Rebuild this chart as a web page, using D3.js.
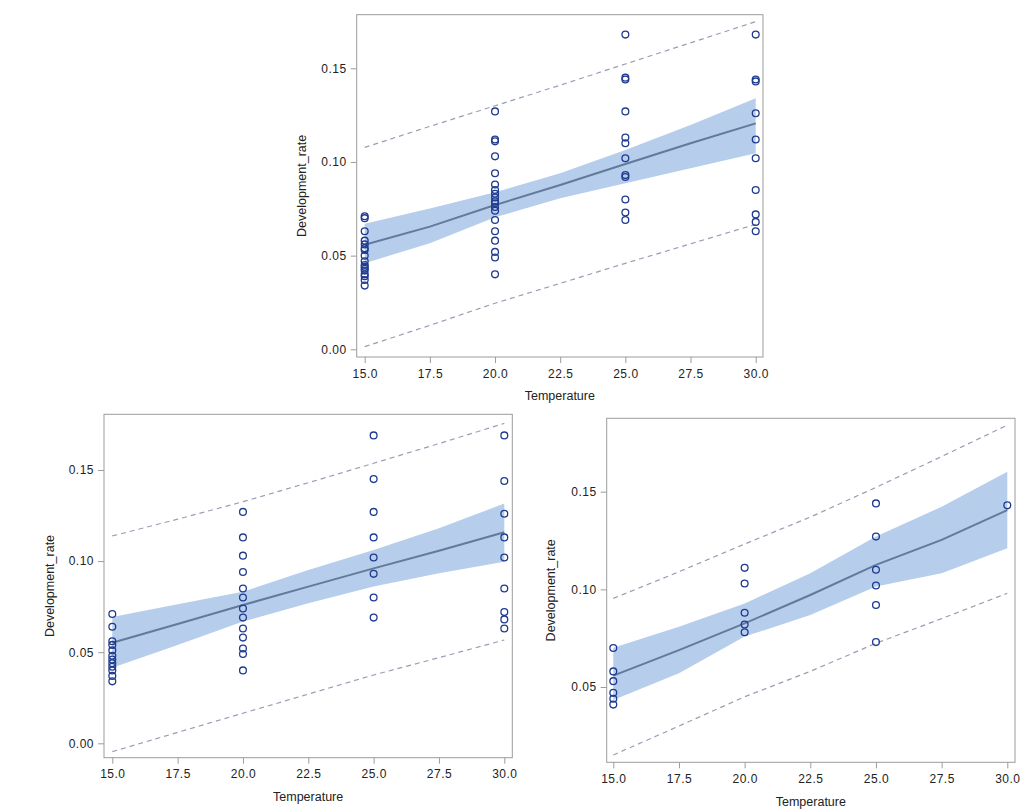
<!DOCTYPE html>
<html>
<head>
<meta charset="utf-8">
<script src="https://cdn.jsdelivr.net/npm/d3@7"></script>
<style>
  html, body { margin: 0; padding: 0; background: #ffffff; }
  svg { display: block; }
  text { font-family: "Liberation Sans", Arial, sans-serif; fill: #222; }
</style>
</head>
<body>
<svg id="chart" width="1032" height="812"></svg>
<script>
// ---------------- DATA ----------------
const xTickValues = [15, 17.5, 20, 22.5, 25, 27.5, 30];
const yTickValuesFull = [0, 0.05, 0.10, 0.15];
const yTickValuesSub = [0.05, 0.10, 0.15];
const temperatures = [15, 20, 25, 30];
const fitGrid = [15, 17.5, 20, 22.5, 25, 27.5, 30];

// Panel 1 (top) observations per temperature
const p1At15 = [0.071, 0.070, 0.063, 0.058, 0.056, 0.054, 0.053, 0.050, 0.047, 0.045, 0.044, 0.043, 0.042, 0.040, 0.039, 0.037, 0.034];
const p1At20 = [0.127, 0.112, 0.111, 0.103, 0.094, 0.088, 0.085, 0.083, 0.081, 0.079, 0.078, 0.076, 0.074, 0.069, 0.063, 0.058, 0.052, 0.049, 0.040];
const p1At25 = [0.168, 0.145, 0.144, 0.127, 0.113, 0.110, 0.102, 0.093, 0.092, 0.080, 0.073, 0.069];
const p1At30 = [0.168, 0.144, 0.143, 0.126, 0.112, 0.102, 0.085, 0.072, 0.068, 0.063];
const p1Fit  = [0.0558, 0.0655, 0.0770, 0.0877, 0.0989, 0.1100, 0.1206];
const p1ClmU = [0.0670, 0.0752, 0.0838, 0.0940, 0.1064, 0.1198, 0.1340];
const p1ClmL = [0.0460, 0.0566, 0.0705, 0.0806, 0.0886, 0.0966, 0.1046];
const p1CliU = [0.1078, 0.1190, 0.1300, 0.1410, 0.1523, 0.1636, 0.1749];
const p1CliL = [0.0014, 0.0128, 0.0246, 0.0352, 0.0459, 0.0563, 0.0667];

// Panel 2 (bottom left)
const p2At15 = [0.071, 0.064, 0.056, 0.054, 0.051, 0.048, 0.046, 0.044, 0.042, 0.040, 0.037, 0.034];
const p2At20 = [0.127, 0.113, 0.103, 0.094, 0.085, 0.080, 0.074, 0.069, 0.063, 0.058, 0.052, 0.049, 0.040];
const p2At25 = [0.169, 0.145, 0.127, 0.113, 0.102, 0.093, 0.080, 0.069];
const p2At30 = [0.169, 0.144, 0.126, 0.113, 0.102, 0.085, 0.072, 0.068, 0.063];
const p2Fit  = [0.0552, 0.0655, 0.0759, 0.0860, 0.0960, 0.1057, 0.1158];
const p2ClmU = [0.0693, 0.0763, 0.0832, 0.0951, 0.1061, 0.1180, 0.1316];
const p2ClmL = [0.0415, 0.0540, 0.0668, 0.0768, 0.0860, 0.0933, 0.0997];
const p2CliU = [0.1138, 0.1230, 0.1326, 0.1430, 0.1537, 0.1645, 0.1756];
const p2CliL = [-0.0046, 0.0060, 0.0165, 0.0270, 0.0375, 0.0470, 0.0567];

// Panel 3 (bottom right)
const p3At15 = [0.070, 0.058, 0.053, 0.047, 0.044, 0.041];
const p3At20 = [0.111, 0.103, 0.088, 0.082, 0.078];
const p3At25 = [0.144, 0.127, 0.110, 0.102, 0.092, 0.073];
const p3At30 = [0.143];
const p3Fit  = [0.0558, 0.0689, 0.0826, 0.0971, 0.1125, 0.1253, 0.1406];
const p3ClmU = [0.0701, 0.0809, 0.0928, 0.1082, 0.1270, 0.1423, 0.1602];
const p3ClmL = [0.0433, 0.0570, 0.0758, 0.0869, 0.1014, 0.1082, 0.1210];
const p3CliU = [0.0954, 0.1090, 0.1232, 0.1370, 0.1522, 0.1680, 0.1841];
const p3CliL = [0.0152, 0.0300, 0.0450, 0.0580, 0.0724, 0.0850, 0.0980];

const xLabel = "Temperature";
const yLabel = "Development_rate";

// ---------------- LAYOUT ----------------
const panels = [
  { frame: {x0: 356.7, y0: 14.7, x1: 763, y1: 357},
    xRange: [364.7, 755.7], yDomain: [0, 0.15], yRange: [349.3, 68.3], yTicks: yTickValuesFull,
    obs: [p1At15, p1At20, p1At25, p1At30], fit: p1Fit, clmU: p1ClmU, clmL: p1ClmL, cliU: p1CliU, cliL: p1CliL,
    yLabelX: 302.7, xLabelY: 397 },
  { frame: {x0: 104, y0: 414.3, x1: 512.3, y1: 757.7},
    xRange: [112.3, 504.3], yDomain: [0, 0.15], yRange: [743.3, 470], yTicks: yTickValuesFull,
    obs: [p2At15, p2At20, p2At25, p2At30], fit: p2Fit, clmU: p2ClmU, clmL: p2ClmL, cliU: p2CliU, cliL: p2CliL,
    yLabelX: 50.7, xLabelY: 798 },
  { frame: {x0: 606.7, y0: 418.3, x1: 1015, y1: 762.3},
    xRange: [613.3, 1007.3], yDomain: [0.05, 0.15], yRange: [687, 491.7], yTicks: yTickValuesSub,
    obs: [p3At15, p3At20, p3At25, p3At30], fit: p3Fit, clmU: p3ClmU, clmL: p3ClmL, cliU: p3CliU, cliL: p3CliL,
    yLabelX: 551.7, xLabelY: 802.5 }
];

const svg = d3.select("#chart");
const frameColor = "#9c9c9c";

panels.forEach((p, i) => {
  const x = d3.scaleLinear().domain([15, 30]).range(p.xRange);
  const y = d3.scaleLinear().domain(p.yDomain).range(p.yRange);
  const f = p.frame;
  const g = svg.append("g");

  const clipId = "clip" + i;
  g.append("clipPath").attr("id", clipId).append("rect")
    .attr("x", f.x0).attr("y", f.y0).attr("width", f.x1 - f.x0).attr("height", f.y1 - f.y0);

  const plot = g.append("g").attr("clip-path", `url(#${clipId})`);

  const rows = fitGrid.map((t, k) => ({t, fit: p.fit[k], lo: p.clmL[k], hi: p.clmU[k], pl: p.cliL[k], pu: p.cliU[k]}));

  // confidence band
  plot.append("path").datum(rows)
    .attr("d", d3.area().x(d => x(d.t)).y0(d => y(d.lo)).y1(d => y(d.hi)))
    .attr("fill", "#b6cdec").attr("stroke", "none");

  // fit line
  plot.append("path").datum(rows)
    .attr("d", d3.line().x(d => x(d.t)).y(d => y(d.fit)))
    .attr("fill", "none").attr("stroke", "#627a9c").attr("stroke-width", 2);

  // prediction limits
  ["pl", "pu"].forEach(key => {
    plot.append("path").datum(rows)
      .attr("d", d3.line().x(d => x(d.t)).y(d => y(d[key])))
      .attr("fill", "none").attr("stroke", "#9c9cb4").attr("stroke-width", 1.2)
      .attr("stroke-dasharray", "5,4");
  });

  // observations
  const pts = [];
  temperatures.forEach((t, k) => p.obs[k].forEach(v => pts.push({t, v})));
  plot.selectAll("circle.obs").data(pts).join("circle")
    .attr("class", "obs")
    .attr("cx", d => x(d.t)).attr("cy", d => y(d.v)).attr("r", 3.4)
    .attr("fill", "none").attr("stroke", "#1f3b8f").attr("stroke-width", 1.3);

  // frame
  g.append("rect")
    .attr("x", f.x0).attr("y", f.y0).attr("width", f.x1 - f.x0).attr("height", f.y1 - f.y0)
    .attr("fill", "none").attr("stroke", frameColor).attr("stroke-width", 1);

  // x axis
  const xAxis = g.append("g").attr("transform", `translate(0,${f.y1})`)
    .call(d3.axisBottom(x).tickValues(xTickValues).tickFormat(d3.format(".1f")).tickSize(6).tickPadding(6));
  // y axis
  const yAxis = g.append("g").attr("transform", `translate(${f.x0},0)`)
    .call(d3.axisLeft(y).tickValues(p.yTicks).tickFormat(d3.format(".2f")).tickSize(6).tickPadding(4));

  [xAxis, yAxis].forEach(ax => {
    ax.select(".domain").remove();
    ax.selectAll(".tick line").attr("stroke", frameColor);
    ax.selectAll(".tick text").attr("font-size", 12).attr("letter-spacing", "0.5px")
      .attr("font-family", "'Liberation Sans', Arial, sans-serif").attr("fill", "#222");
  });

  // axis labels
  g.append("text")
    .attr("x", (f.x0 + f.x1) / 2).attr("y", p.xLabelY)
    .attr("text-anchor", "middle").attr("dominant-baseline", "middle")
    .attr("font-size", 12.5).text(xLabel);
  g.append("text")
    .attr("transform", `translate(${p.yLabelX},${(f.y0 + f.y1) / 2}) rotate(-90)`)
    .attr("text-anchor", "middle").attr("dominant-baseline", "middle")
    .attr("font-size", 12.5).text(yLabel);
});
</script>
</body>
</html>
